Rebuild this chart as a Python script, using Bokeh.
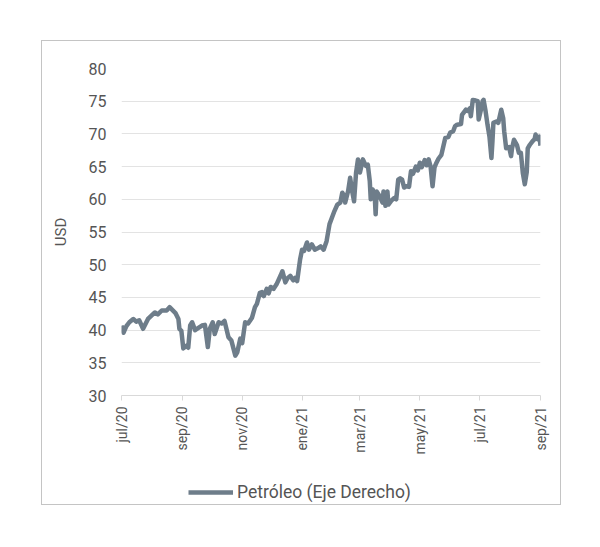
import math
import pandas as pd
from bokeh.plotting import figure
from bokeh.layouts import column
from bokeh.models import Range1d, FixedTicker, Legend, LegendItem, ColumnDataSource
from bokeh.embed import file_html
from bokeh.resources import INLINE

# ---- data ----
dates = [
    "2020-07-01", "2020-07-03", "2020-07-06", "2020-07-09", "2020-07-13", "2020-07-16", "2020-07-19",
    "2020-07-23", "2020-07-28", "2020-08-04", "2020-08-07", "2020-08-11", "2020-08-16", "2020-08-19",
    "2020-08-23", "2020-08-25", "2020-08-28", "2020-08-29", "2020-08-31", "2020-09-02", "2020-09-05",
    "2020-09-07", "2020-09-09", "2020-09-11", "2020-09-14", "2020-09-17", "2020-09-21", "2020-09-24",
    "2020-09-27", "2020-09-29", "2020-10-02", "2020-10-04", "2020-10-08", "2020-10-11", "2020-10-14",
    "2020-10-18", "2020-10-21", "2020-10-25", "2020-10-27", "2020-10-30", "2020-11-01", "2020-11-04",
    "2020-11-07", "2020-11-11", "2020-11-14", "2020-11-16", "2020-11-19", "2020-11-21", "2020-11-23",
    "2020-11-26", "2020-11-28", "2020-11-30", "2020-12-03", "2020-12-06", "2020-12-10", "2020-12-12",
    "2020-12-15", "2020-12-17", "2020-12-20", "2020-12-23", "2020-12-25", "2020-12-27", "2020-12-28",
    "2020-12-30", "2021-01-01", "2021-01-03", "2021-01-06", "2021-01-08", "2021-01-11", "2021-01-14",
    "2021-01-18", "2021-01-20", "2021-01-23", "2021-01-26", "2021-01-29", "2021-02-01", "2021-02-03",
    "2021-02-06", "2021-02-09", "2021-02-11", "2021-02-13", "2021-02-14", "2021-02-17", "2021-02-19",
    "2021-02-21", "2021-02-23", "2021-02-25", "2021-02-27", "2021-03-01", "2021-03-04", "2021-03-07",
    "2021-03-09", "2021-03-11", "2021-03-12", "2021-03-14", "2021-03-16", "2021-03-17", "2021-03-18",
    "2021-03-21", "2021-03-24", "2021-03-25", "2021-03-27", "2021-03-29", "2021-03-30", "2021-04-02",
    "2021-04-05", "2021-04-07", "2021-04-09", "2021-04-11", "2021-04-13", "2021-04-15", "2021-04-17",
    "2021-04-20", "2021-04-22", "2021-04-24", "2021-04-27", "2021-04-29", "2021-05-01", "2021-05-03",
    "2021-05-06", "2021-05-08", "2021-05-10", "2021-05-12", "2021-05-14", "2021-05-16", "2021-05-18",
    "2021-05-20", "2021-05-23", "2021-05-25", "2021-05-27", "2021-05-30", "2021-06-01", "2021-06-04",
    "2021-06-06", "2021-06-08", "2021-06-12", "2021-06-13", "2021-06-17", "2021-06-19", "2021-06-21",
    "2021-06-22", "2021-06-24", "2021-06-27", "2021-06-29", "2021-06-30", "2021-07-02", "2021-07-04",
    "2021-07-05", "2021-07-07", "2021-07-09", "2021-07-11", "2021-07-13", "2021-07-14", "2021-07-15",
    "2021-07-18", "2021-07-20", "2021-07-23", "2021-07-25", "2021-07-26", "2021-07-28", "2021-07-31",
    "2021-08-02", "2021-08-03", "2021-08-05", "2021-08-08", "2021-08-10", "2021-08-12", "2021-08-14",
    "2021-08-16", "2021-08-18", "2021-08-19", "2021-08-21", "2021-08-24", "2021-08-26", "2021-08-27",
    "2021-08-29", "2021-08-31", "2021-09-01",
]
petroleo = [
    40.7, 39.6, 40.6, 41.2, 41.7, 41.3, 41.5,
    40.2, 41.7, 42.7, 42.4, 43.0, 43.0, 43.5,
    42.9, 42.6, 41.7, 40.2, 39.9, 37.2, 37.6,
    37.3, 40.7, 41.2, 40.0, 40.3, 40.7, 40.8,
    37.4, 40.2, 41.2, 39.4, 41.2, 41.0, 41.4,
    38.9, 38.4, 36.1, 36.6, 38.7, 38.0, 41.2,
    41.0, 41.9, 43.5, 44.0, 45.7, 45.8, 45.2,
    46.3, 45.6, 46.6, 46.3, 47.0, 48.3, 49.0,
    47.3, 47.9, 48.3, 47.6, 48.0, 47.5, 48.6,
    50.8, 52.3, 52.1, 53.4, 52.3, 53.1, 52.3,
    52.6, 52.8, 52.3, 53.6, 56.2, 57.4, 58.2,
    59.2, 59.5, 61.0, 60.5, 59.5, 61.3, 63.3,
    61.3, 59.7, 64.0, 66.1, 64.1, 66.1, 65.1,
    65.3, 62.8, 60.0, 61.5, 60.7, 57.7, 61.2,
    60.5, 59.5, 61.2, 59.0, 61.2, 59.2, 59.8,
    60.2, 60.0, 63.0, 63.2, 63.0, 61.8, 62.0,
    61.9, 64.3, 63.9, 65.0, 64.4, 65.6, 64.9,
    66.0, 65.2, 66.1, 65.0, 62.0, 64.9, 65.6,
    66.2, 66.8, 68.1, 69.4, 69.5, 70.2, 70.4,
    71.2, 71.4, 71.5, 72.9, 73.7, 73.5, 73.9,
    72.7, 75.2, 75.1, 75.0, 72.2, 73.5, 75.0,
    75.2, 73.5, 71.4, 69.6, 66.3, 68.8, 71.7,
    71.9, 71.7, 73.7, 72.4, 70.4, 67.8, 68.0,
    66.6, 67.8, 69.1, 68.3, 67.1, 67.1, 64.0,
    62.3, 64.2, 67.8, 68.3, 68.9, 69.2, 69.9,
    69.2, 69.6, 68.2,
]
tick_dates = ["2020-07-01", "2020-09-01", "2020-11-01", "2021-01-01", "2021-03-01",
              "2021-05-01", "2021-07-01", "2021-09-01"]
tick_labels = ["jul/20", "sep/20", "nov/20", "ene/21", "mar/21", "may/21", "jul/21", "sep/21"]
y_ticks = [30, 35, 40, 45, 50, 55, 60, 65, 70, 75, 80]
series_name = "Petróleo (Eje Derecho)"
y_label = "USD"

# ---- chart ----
FONT = "Roboto"
TXT = "#555555"
LINE = "#6e7d8a"

x = pd.to_datetime(dates)
src = ColumnDataSource(dict(x=x, y=petroleo))

def ms(d):
    return pd.Timestamp(d).value / 1e6

p = figure(width=518, height=430, x_axis_type="datetime",
           output_backend="svg", toolbar_location=None,
           x_range=Range1d(ms(tick_dates[0]), ms(tick_dates[-1])),
           y_range=Range1d(y_ticks[0], y_ticks[-1]),
           min_border_left=79, min_border_right=20, min_border_top=27, min_border_bottom=76)
p.outline_line_color = None
p.background_fill_color = "white"
p.border_fill_color = "white"

r = p.line("x", "y", source=src, line_color=LINE, line_width=4.5, line_join="round")

# grid
p.xgrid.visible = False
p.ygrid.ticker = FixedTicker(ticks=y_ticks)
p.ygrid.grid_line_color = "#e3e3e3"
p.ygrid.grid_line_width = 1

# y axis
ya = p.yaxis[0]
ya.ticker = FixedTicker(ticks=y_ticks)
ya.axis_line_color = None
ya.major_tick_line_color = None
ya.minor_tick_line_color = None
ya.major_label_text_font = FONT
ya.major_label_text_font_size = "16px"
ya.major_label_text_color = TXT
ya.major_label_standoff = 9
ya.axis_label = y_label
ya.axis_label_text_font = FONT
ya.axis_label_text_font_size = "15px"
ya.axis_label_text_font_style = "normal"
ya.axis_label_text_color = TXT
ya.axis_label_standoff = 16

# x axis
xa = p.xaxis[0]
tick_ms = [ms(d) for d in tick_dates]
xa.ticker = FixedTicker(ticks=tick_ms)
xa.major_label_overrides = {t: l for t, l in zip(tick_ms, tick_labels)}
xa.major_label_orientation = math.pi / 2
xa.axis_line_color = "#d9d9d9"
xa.major_tick_line_color = "#d9d9d9"
xa.major_tick_out = 5
xa.major_tick_in = 0
xa.minor_tick_line_color = None
xa.major_label_text_font = FONT
xa.major_label_text_font_size = "14px"
xa.major_label_text_color = TXT
xa.major_label_standoff = 6

# legend strip: a small figure whose ranges keep the series out of view,
# so only the legend entry (same style as the series) is seen
lg = figure(width=518, height=33, output_backend="svg", toolbar_location=None,
            x_range=Range1d(0, 1), y_range=Range1d(0, 1),
            min_border_left=0, min_border_right=0,
            min_border_top=0, min_border_bottom=0)
lg.axis.visible = False
lg.grid.visible = False
lg.outline_line_color = None
lg.background_fill_color = "white"
lg.border_fill_color = "white"
lr = lg.line("x", "y", source=src, line_color=LINE, line_width=4.5)
legend = Legend(items=[LegendItem(label=series_name, renderers=[lr])],
                location=(67, 2), orientation="horizontal",
                glyph_width=45, glyph_height=14, padding=0, margin=0,
                border_line_color=None, background_fill_alpha=0,
                label_text_font=FONT, label_text_font_size="17.5px",
                label_text_color=TXT, label_standoff=4)
lg.add_layout(legend, "center")

layout = column(p, lg, spacing=0)
layout.margin = (40, 0, 0, 41)
layout.styles = {"border": "1px solid #c4c4c4"}

open("out.html", "w").write(file_html(layout, INLINE))
